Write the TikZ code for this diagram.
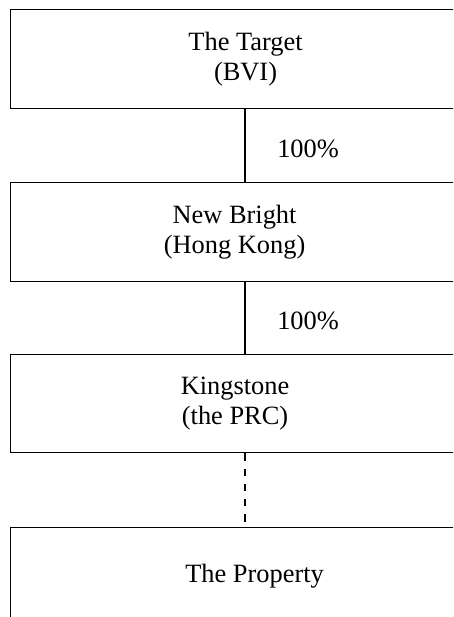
\documentclass[tikz,border=0pt]{standalone}
\usepackage{fontspec}
\setmainfont{Liberation Serif}
\usetikzlibrary{positioning}

\begin{document}
\begin{tikzpicture}[x=1pt, y=1pt, line width=1.1pt,
    entity/.style={draw, minimum height=98.6pt,
        align=center, inner sep=0pt,
        font=\fontsize{26.4}{30}\selectfont},
    share/.style={right, inner sep=0pt, xshift=31.7pt, yshift=-3pt,
        font=\fontsize{26.4}{30}\selectfont}]
    \useasboundingbox (0,0) rectangle (453,-617);
    \clip (0,0) rectangle (453,-617);

    % boxes run off the right edge, only the left side is fixed
    \node[entity, minimum width=471pt, anchor=north west] (target) at (9.5,-9) {The Target\\(BVI)};
    \node[entity, minimum width=449pt, below right=73.7pt and 0pt of target.south west] (newbright) {New Bright\\(Hong Kong)};
    \node[entity, minimum width=450pt, below right=71.4pt and 0pt of newbright.south west] (kingstone) {Kingstone\\(the PRC)};
    \node[entity, minimum width=489pt, below right=73.4pt and 0pt of kingstone.south west] (property) {The Property};

    \coordinate (spine) at (245,0);
    \draw (target.south -| spine) -- node[share] {100\%} (newbright.north -| spine);
    \draw (newbright.south -| spine) -- node[share] {100\%} (kingstone.north -| spine);
    \draw[dash pattern=on 7.3pt off 8pt] (kingstone.south -| spine) -- (property.north -| spine);
\end{tikzpicture}
\end{document}
